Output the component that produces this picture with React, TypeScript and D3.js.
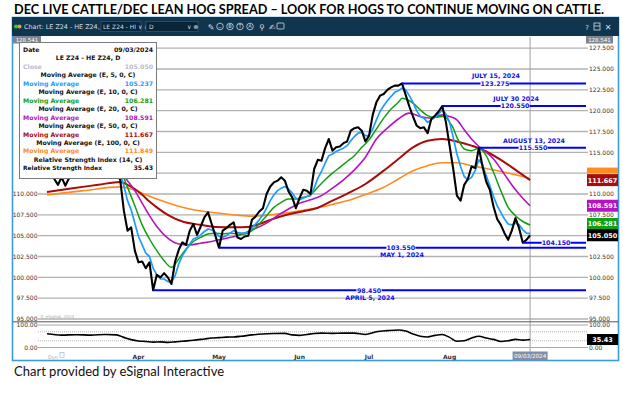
import React from "react";
import * as d3 from "d3";

const W = 623;
const H = 399;

// daily closes of LE Z24 - HE Z24, bar 0 = Feb 23 2024 ... bar 132 = Sep 3 2024
const closes = [
  112.3, 112.8, 111.8, 111.1, 112.0, 111.0, 111.9, 112.6, 112.9, 113.3,
  113.6, 113.0, 112.6, 113.1, 113.5, 112.9, 112.4, 112.8, 113.2, 112.5,
  111.7, 108.0, 105.6, 106.0, 103.2, 101.8, 101.9, 101.1, 101.8, 98.45,
  100.3, 100.0, 100.5, 100.0, 99.2, 101.9, 103.3, 104.2, 103.9, 105.6,
  106.4, 105.1, 106.1, 107.2, 107.8, 106.4, 105.0, 103.55, 105.6, 105.9,
  106.3, 106.6, 104.8, 104.6, 104.9, 105.0, 106.9, 107.3, 107.9, 108.3,
  110.0, 110.9, 111.4, 111.6, 112.0, 111.6, 110.3, 109.6, 108.3, 109.5,
  110.5, 110.4, 110.0, 113.0, 114.1, 114.0, 115.5, 116.6, 115.2, 115.6,
  115.7, 116.1, 116.3, 117.6, 117.9, 118.0, 117.6, 116.3, 117.0, 119.5,
  121.0, 121.8, 122.0, 122.5, 122.8, 123.0, 123.0, 123.275, 121.9, 120.5,
  119.3, 118.2, 117.9, 118.0, 117.3, 119.0, 119.4, 119.9, 120.55, 118.6,
  115.8, 113.0, 109.8, 109.2, 111.1, 111.8, 113.3, 113.1, 115.55, 113.3,
  111.5, 110.5, 108.5, 107.0, 106.3, 105.3, 104.5, 105.6, 107.1, 105.9,
  104.15, 104.5, 105.05,
];

// MA (E,5) read per bar
const ema5 = [
  112.4, 112.5, 112.1, 112.1, 111.8, 111.9, 112.1, 112.4, 112.4, 112.7,
  113.0, 113.0, 112.9, 113.0, 113.1, 113.1, 112.9, 112.8, 113.0, 112.8,
  112.5, 111.0, 109.2, 108.1, 106.5, 104.9, 103.9, 102.9, 102.5, 101.1,
  100.3, 99.8, 99.8, 99.5, 99.4, 100.2, 101.6, 102.6, 103.3, 104.0,
  104.6, 104.8, 105.1, 105.5, 105.8, 105.7, 105.4, 104.9, 104.8, 105.0,
  105.3, 105.6, 105.4, 105.3, 105.3, 105.4, 105.9, 106.4, 106.9, 107.5,
  108.3, 109.2, 109.9, 110.4, 110.7, 110.9, 110.6, 110.1, 109.5, 109.3,
  109.5, 109.7, 109.8, 110.7, 111.9, 112.7, 113.7, 114.6, 114.8, 115.1,
  115.3, 115.5, 115.8, 116.4, 116.9, 117.3, 117.4, 117.0, 117.0, 117.8,
  118.9, 119.9, 120.6, 121.2, 121.7, 122.2, 122.4, 122.7, 122.5, 121.8,
  121.0, 120.0, 119.3, 119.1, 118.6, 118.9, 119.2, 119.6, 120.1, 119.6,
  118.6, 116.8, 114.8, 113.3, 112.1, 111.7, 112.0, 112.8, 114.1, 113.5,
  112.2, 111.0, 109.7, 108.6, 107.8, 107.0, 106.4, 106.3, 106.5, 106.3,
  105.7, 105.3, 105.237,
];

// MA (E,10) sampled
const ema10Idx = [0, 6, 12, 17, 20, 21, 22, 24, 26, 28, 30, 32, 34, 36, 38, 40, 42, 44, 46, 48, 50, 52, 54, 56, 58, 60, 62, 64, 66, 68, 70, 72, 74, 76, 78, 80, 82, 84, 86, 88, 90, 92, 94, 96, 97, 98, 100, 102, 104, 106, 108, 109, 110, 111, 112, 113, 114, 116, 118, 120, 122, 124, 126, 128, 130, 132];
const ema10 = [112.6, 112.4, 112.8, 112.9, 112.6, 111.9, 110.8, 108.6, 106.3, 104.6, 103.2, 102.0, 101.2, 102.2, 103.4, 104.3, 104.8, 105.2, 105.3, 105.2, 105.3, 105.2, 105.2, 105.6, 106.4, 107.4, 108.4, 109.0, 109.4, 109.4, 109.6, 109.9, 110.8, 111.7, 112.5, 113.2, 113.9, 114.6, 115.6, 116.5, 117.8, 119.1, 120.2, 121.0, 121.5, 121.4, 120.9, 120.1, 119.4, 119.2, 119.3, 119.2, 118.6, 117.9, 116.8, 116.0, 115.4, 115.2, 115.5, 114.6, 112.6, 110.4, 108.4, 107.4, 106.7, 106.281];

// MA (E,20) sampled
const ema20Idx = [0, 10, 20, 22, 24, 26, 28, 30, 33, 36, 39, 42, 45, 49, 53, 56, 60, 63, 66, 69, 72, 75, 78, 81, 84, 87, 90, 93, 96, 99, 102, 105, 108, 110, 112, 114, 116, 118, 120, 122, 124, 126, 128, 130, 132];
const ema20 = [112.9, 112.9, 112.6, 111.6, 110.4, 108.9, 107.4, 106.1, 104.7, 104.0, 103.9, 104.1, 104.3, 104.7, 105.1, 105.7, 106.5, 107.4, 108.2, 108.9, 109.3, 109.8, 110.7, 111.7, 112.9, 114.4, 116.6, 117.9, 119.0, 119.7, 119.3, 119.1, 119.5, 119.3, 118.9, 117.7, 116.6, 115.7, 115.0, 114.2, 113.0, 111.7, 110.5, 109.5, 108.591];

// MA (E,50) sampled
const ema50Idx = [0, 7, 14, 20, 22, 24, 26, 28, 30, 33, 37, 42, 46, 51, 55, 58, 61, 65, 69, 74, 78, 83, 87, 92, 96, 100, 104, 108, 112, 116, 118, 120, 124, 128, 132];
const ema50 = [110.25, 110.7, 111.1, 111.45, 111.1, 110.6, 109.9, 109.1, 108.4, 107.5, 106.7, 106.3, 106.05, 106.0, 106.05, 106.4, 106.9, 107.45, 107.85, 108.35, 109.2, 110.25, 111.2, 112.8, 114.2, 115.6, 116.4, 116.6, 116.3, 115.8, 115.5, 115.1, 114.1, 112.9, 111.667];

// MA (E,100) sampled
const ema100Idx = [0, 10, 20, 23, 26, 30, 34, 40, 46, 52, 56, 60, 65, 70, 74, 78, 83, 88, 92, 96, 100, 104, 108, 112, 116, 120, 124, 128, 132];
const ema100 = [109.9, 110.4, 110.85, 110.6, 110.1, 109.4, 108.8, 108.1, 107.75, 107.45, 107.35, 107.45, 107.7, 108.05, 108.35, 108.75, 109.3, 110.1, 110.8, 111.8, 112.8, 113.4, 113.75, 113.75, 113.4, 113.05, 112.7, 112.3, 111.849];

// RSI (14) sampled
const rsiIdx = [0, 4, 8, 12, 16, 19, 21, 23, 25, 27, 29, 31, 33, 35, 37, 40, 43, 45, 47, 49, 51, 53, 56, 59, 62, 65, 67, 69, 71, 73, 75, 78, 81, 84, 87, 90, 93, 96, 98, 100, 102, 104, 106, 108, 110, 112, 114, 116, 118, 120, 122, 124, 126, 128, 130, 132];
const rsi = [61, 55, 57, 55, 58, 56, 45, 35, 29, 27, 24, 25, 23, 25, 28, 32, 38, 42, 44, 46, 47, 50, 56, 60, 62, 63, 56, 54, 58, 62, 64, 63, 64, 64, 58, 70, 75, 78, 73, 60, 50, 47, 54, 58, 45, 28, 30, 42, 50, 42, 36, 27, 30, 36, 33, 35.43];

const monthLabels = ["Apr", "May", "Jun", "Jul", "Aug"];
const monthBars = [25, 47, 69, 88, 110];
const priceTicks = [95, 97.5, 100, 102.5, 105, 107.5, 110, 112.5, 115, 117.5, 120, 122.5, 125, 127.5];
const scaleTop = 128.541;

// horizontal support / resistance notes
const noteLevels = [123.275, 120.55, 115.55, 104.15, 103.55, 98.45];
const noteBars = [97, 108, 118, 130, 47, 29];
const noteDates = ["JULY 15, 2024", "JULY 30  2024", "AUGUST 13, 2024", "", "MAY 1, 2024", "APRIL 5, 2024"];
// layout for the note texts (bar units, date above or below)
const noteTextAt = [122.4, 127.9, 132.8, 139.1, 96.7, 88];
const noteDateAbove = [true, true, true, true, false, false];

const lastDate = "09/03/2024";

const axisFont = "'DejaVu Sans', Verdana, sans-serif";

export default function App() {
  const x = d3.scaleLinear().domain([0, 147]).range([47, 585]);
  const y = d3.scaleLinear().domain([95, 125]).range([319, 69]);
  const ry = d3.scaleLinear().domain([0, 100]).range([347.5, 325]);

  const perBar = d3.line<number>().x((d, i) => x(i)).y((d) => y(d));
  const sampled = (idx: number[], vals: number[]) =>
    d3.line<number>().x((d, i) => x(idx[i])).y((d) => y(d)).curve(d3.curveMonotoneX)(vals);
  const rsiPath = d3.line<number>().x((d, i) => x(rsiIdx[i])).y((d) => ry(d)).curve(d3.curveMonotoneX)(rsi);

  const last = closes.length - 1;
  const fmt3 = d3.format(".3f");

  const maRows = [
    { label: "Moving Average (E, 5, 0, C)", color: "#1e9bff", val: ema5[ema5.length - 1] },
    { label: "Moving Average (E, 10, 0, C)", color: "#12a012", val: ema10[ema10.length - 1] },
    { label: "Moving Average (E, 20, 0, C)", color: "#b414c0", val: ema20[ema20.length - 1] },
    { label: "Moving Average (E, 50, 0, C)", color: "#a80c0c", val: ema50[ema50.length - 1] },
    { label: "Moving Average (E, 100, 0, C)", color: "#ff8a1e", val: ema100[ema100.length - 1] },
  ];

  // value flags on the right price scale (the 5-MA flag sits under the close flag)
  const boxes = [
    { v: ema50[ema50.length - 1], color: "#a80c0c", dy: 0 },
    { v: ema20[ema20.length - 1], color: "#b414c0", dy: 0 },
    { v: ema10[ema10.length - 1], color: "#12a012", dy: -1 },
    { v: closes[last], color: "#000000", dy: 0 },
  ];
  const flagYs = boxes.map((b) => y(b.v) + b.dy);
  const rightTicks = priceTicks.filter((t) => flagYs.every((fy) => Math.abs(fy - y(t)) > 7));

  const legendX = 19.5;
  const legendY = 42.5;
  const rowH = 8.45;

  return (
    <svg width={W} height={H} style={{ position: "absolute", left: 0, top: 0, background: "#fff" }}>
      <defs>
        <clipPath id="plot">
          <rect x={38} y={37} width={548} height={284} />
        </clipPath>
      </defs>
      <rect width={W} height={H} fill="#fff" />

      {/* chart window */}
      <rect x={12.5} y={17.5} width={606} height={343} fill="#fff" stroke="#3c9be0" strokeWidth={1.6} />

      {/* title */}
      <text x={14} y={13.5} fontFamily="Lato, 'Open Sans', sans-serif" fontWeight={700} fontSize={13}
        textLength={590} lengthAdjust="spacingAndGlyphs" fill="#000">
        DEC LIVE CATTLE/DEC LEAN HOG SPREAD –   LOOK FOR HOGS TO CONTINUE MOVING ON CATTLE.
      </text>

      {/* price gridlines */}
      {priceTicks.map((t) => (
        <line key={t} x1={38} x2={588} y1={y(t)} y2={y(t)} stroke="#b2b2b2" strokeWidth={1.3} />
      ))}
      {rightTicks.map((t) => (
        <text key={"r" + t} x={589} y={y(t) + 2.2} fontFamily={axisFont} fontSize={6} fill="#333">
          {fmt3(t)}
        </text>
      ))}
      {priceTicks.filter((t) => t <= 110).map((t) => (
        <text key={"l" + t} x={37.5} y={y(t) + 2.2} fontFamily={axisFont} fontSize={6} fill="#333" textAnchor="end">
          {fmt3(t)}
        </text>
      ))}

      {/* cursor line */}
      <line x1={x(last)} x2={x(last)} y1={37} y2={352} stroke="#a0a0a0" strokeWidth={1} />

      {/* moving averages and price */}
      <g clipPath="url(#plot)" fill="none" strokeLinejoin="round">
        <path d={sampled(ema100Idx, ema100) || ""} stroke="#ff8a1e" strokeWidth={1.6} />
        <path d={sampled(ema50Idx, ema50) || ""} stroke="#a80c0c" strokeWidth={2} />
        <path d={sampled(ema20Idx, ema20) || ""} stroke="#b414c0" strokeWidth={1.6} />
        <path d={sampled(ema10Idx, ema10) || ""} stroke="#12a012" strokeWidth={1.5} />
        <path d={perBar(ema5) || ""} stroke="#1e9bff" strokeWidth={1.7} />
        <path d={perBar(closes) || ""} stroke="#000" strokeWidth={2.1} />
      </g>

      {/* support / resistance notes */}
      {noteLevels.map((lv, i) => {
        const ly = y(lv);
        const tx = x(noteTextAt[i]);
        const label = fmt3(lv);
        const tw = label.length * 3.7 + 3;
        return (
          <g key={lv} fontFamily={axisFont} fontWeight={700} fontSize={6.3} fill="#1010e8" textAnchor="middle">
            <line x1={x(noteBars[i])} x2={586} y1={ly} y2={ly} stroke="#0000ff" strokeWidth={2} />
            <rect x={tx - tw / 2} y={ly - 3} width={tw} height={6} fill="#fff" />
            <text x={tx} y={ly + 2.3}>{label}</text>
            {noteDates[i] && (
              <text x={tx + 1} y={noteDateAbove[i] ? ly - 5 : ly + 9.5}>{noteDates[i]}</text>
            )}
          </g>
        );
      })}

      {/* right value flags; the 100-MA flag peeks out above the 50-MA one */}
      <rect x={587} y={y(ema100[ema100.length - 1]) - 11} width={31} height={6} fill="#ff8a1e" />
      {boxes.map((b, i) => (
        <g key={i}>
          <rect x={587} y={y(b.v) + b.dy - 6} width={31} height={12} fill={b.color} />
          <text x={602.5} y={y(b.v) + b.dy + 2.4} fontFamily={axisFont} fontSize={6.5} fontWeight={700}
            fill="#fff" textAnchor="middle">
            {fmt3(b.v)}
          </text>
        </g>
      ))}

      {/* top of scale boxes */}
      <rect x={586} y={36} width={27} height={7.5} fill="#7d8590" />
      <text x={599.5} y={41.8} fontFamily={axisFont} fontSize={5.5} fill="#fff" textAnchor="middle">{fmt3(scaleTop)}</text>
      <rect x={13} y={36} width={28} height={7.5} fill="#7d8590" />
      <text x={27} y={41.8} fontFamily={axisFont} fontSize={5.5} fill="#fff" textAnchor="middle">{fmt3(scaleTop)}</text>

      {/* window header bar */}
      <rect x={12} y={17} width={607} height={19} fill="#10364f" />
      <circle cx={16} cy={26.5} r={2} fill="#3cc43c" />
      <circle cx={19.5} cy={26.5} r={2} fill="#f0a020" />
      <text x={24} y={29} fontFamily={axisFont} fontSize={6.4} fill="#d2dbe3">Chart: LE Z24 - HE Z24, D</text>
      <rect x={101} y={21.5} width={40} height={10} fill="#082539" stroke="#3d6078" strokeWidth={0.6} />
      <text x={103} y={29} fontFamily={axisFont} fontSize={6} fill="#d2dbe3">LE Z24 - HI ∨ ≡</text>
      <rect x={146} y={21.5} width={52} height={10} fill="#082539" stroke="#3d6078" strokeWidth={0.6} />
      <text x={149} y={29} fontFamily={axisFont} fontSize={6} fill="#d2dbe3">D</text>
      <text x={187} y={29} fontFamily={axisFont} fontSize={6} fill="#d2dbe3">∨ ⊗</text>
      <g fontFamily={axisFont} fontSize={8} fill="#d2dbe3" textAnchor="middle">
        <text x={211} y={30}>✎</text>
        <circle cx={220} cy={26.5} r={3.3} fill="none" stroke="#d2dbe3" strokeWidth={0.8} />
        <text x={220} y={28.5} fontSize={4.5}>~</text>
        {["B", "T", "A"].map((c, i) => (
          <g key={c}>
            <circle cx={230 + i * 10} cy={26.5} r={3.3} fill="none" stroke="#d2dbe3" strokeWidth={0.8} />
            <text x={230 + i * 10} y={28.4} fontSize={5}>{c}</text>
          </g>
        ))}
        <text x={262} y={30}>⚲</text>
        <text x={272} y={30}>✍</text>
        <rect x={277} y={23} width={7} height={6} fill="none" stroke="#d2dbe3" strokeWidth={0.8} rx={1} />
        <text x={587} y={30} fontSize={7}>?</text>
        <rect x={594} y={23} width={6} height={7} fill="none" stroke="#d2dbe3" strokeWidth={0.8} />
        <line x1={594} x2={600} y1={26} y2={26} stroke="#d2dbe3" strokeWidth={0.8} />
        <text x={608} y={30} fontSize={8}>✕</text>
      </g>

      {/* legend box */}
      <g fontFamily={axisFont} fontSize={6.2} fontWeight={700}>
        <rect x={legendX} y={legendY} width={137} height={136} fill="#fff" stroke="#7a7a7a" strokeWidth={1} />
        <text x={23} y={legendY + 9.5} fill="#111">Date</text>
        <text x={153} y={legendY + 9.5} fill="#111" textAnchor="end">{lastDate}</text>
        <text x={88} y={legendY + 9.5 + rowH} fill="#111" textAnchor="middle">LE Z24 - HE Z24, D</text>
        <text x={23} y={legendY + 9.5 + rowH * 2} fill="#b9b9d2">Close</text>
        <text x={153} y={legendY + 9.5 + rowH * 2} fill="#b9b9d2" textAnchor="end">{fmt3(closes[last])}</text>
        {maRows.map((r, i) => (
          <g key={r.label}>
            <text x={88} y={legendY + 9.5 + rowH * (3 + i * 2)} fill="#111" textAnchor="middle">{r.label}</text>
            <text x={23} y={legendY + 9.5 + rowH * (4 + i * 2)} fill={r.color}>Moving Average</text>
            <text x={153} y={legendY + 9.5 + rowH * (4 + i * 2)} fill={r.color} textAnchor="end">{fmt3(r.val)}</text>
          </g>
        ))}
        <text x={88} y={legendY + 9.5 + rowH * 13} fill="#111" textAnchor="middle">Relative Strength Index (14, C)</text>
        <text x={23} y={legendY + 9.5 + rowH * 14} fill="#111" fontSize={5.9}>Relative Strength Index</text>
        <text x={153} y={legendY + 9.5 + rowH * 14} fill="#111" textAnchor="end">{d3.format(".2f")(rsi[rsi.length - 1])}</text>
      </g>

      {/* pane separator and rsi pane */}
      <text x={40} y={317.5} fontFamily={axisFont} fontSize={4.2} fill="#aaa">© eSignal, 2024</text>
      <line x1={13} x2={618} y1={321.8} y2={321.8} stroke="#555" strokeWidth={1} />
      <line x1={38} x2={588} y1={ry(100)} y2={ry(100)} stroke="#a8a8a8" strokeWidth={1.2} />
      <line x1={38} x2={588} y1={ry(0)} y2={ry(0)} stroke="#a8a8a8" strokeWidth={1.2} />
      <line x1={38} x2={588} y1={ry(70)} y2={ry(70)} stroke="#999" strokeWidth={0.7} strokeDasharray="1,1" />
      <line x1={38} x2={588} y1={ry(30)} y2={ry(30)} stroke="#999" strokeWidth={0.7} strokeDasharray="1,1" />
      <g fontFamily={axisFont} fontSize={6} fill="#333">
        <text x={37.5} y={ry(100) + 2} textAnchor="end">100.00</text>
        <text x={37.5} y={ry(0) + 2} textAnchor="end">0.00</text>
        <text x={589} y={ry(100) + 2}>100.00</text>
        <text x={589} y={ry(0) + 2}>0.00</text>
      </g>
      <path d={rsiPath || ""} fill="none" stroke="#000" strokeWidth={1.6} strokeLinejoin="round" />
      <rect x={587} y={ry(rsi[rsi.length - 1]) - 5.5} width={31} height={11} fill="#000" />
      <text x={602.5} y={ry(rsi[rsi.length - 1]) + 2.3} fontFamily={axisFont} fontSize={6.5} fontWeight={700}
        fill="#fff" textAnchor="middle">
        {d3.format(".2f")(rsi[rsi.length - 1])}
      </text>

      {/* time axis */}
      <text x={48} y={358.5} fontFamily={axisFont} fontSize={5} fill="#9fb0c0">Dyn</text>
      <rect x={60} y={352.5} width={4} height={5} fill="none" stroke="#9fb0c0" strokeWidth={0.6} />
      {monthLabels.map((m, i) => (
        <text key={m} x={x(monthBars[i])} y={358.5} fontFamily={axisFont} fontSize={6} fontWeight={700}
          fill="#333" textAnchor="middle">
          {m}
        </text>
      ))}
      <rect x={x(last) - 17.5} y={351.5} width={35} height={9} fill="#7f8ea4" />
      <text x={x(last)} y={358.3} fontFamily={axisFont} fontSize={5.6} fill="#fff" textAnchor="middle">{lastDate}</text>

      <text x={14} y={376} fontFamily="Lato, 'Open Sans', sans-serif" fontSize={13} fill="#111">
        Chart provided by eSignal Interactive
      </text>
    </svg>
  );
}
